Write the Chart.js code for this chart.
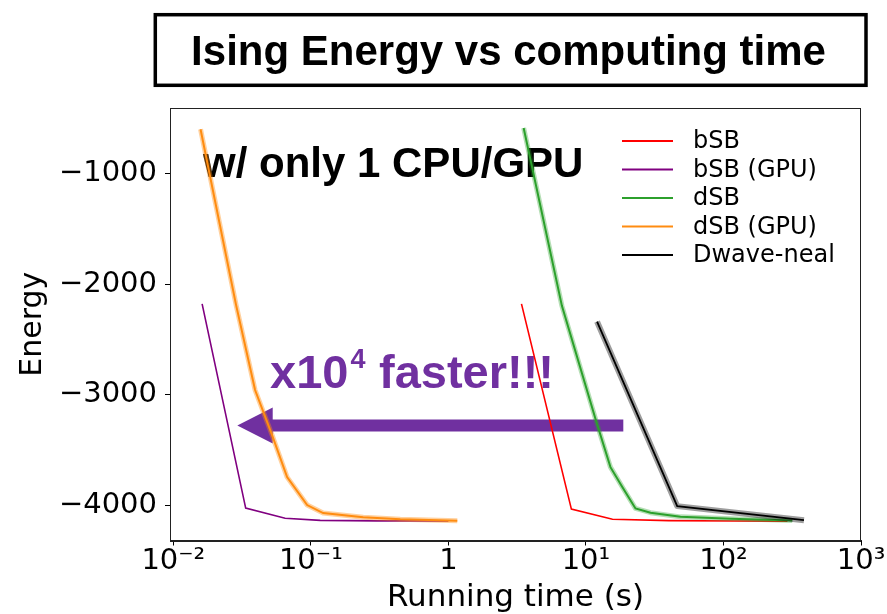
<!DOCTYPE html>
<html><head><meta charset="utf-8">
<script src="https://cdn.jsdelivr.net/npm/chart.js@4"></script>
<style>html,body{margin:0;padding:0;background:#fff;} canvas{display:block;}</style>
</head><body>
<canvas id="c" width="887" height="614"></canvas>
<script>
// ---------- data ----------
const chartTitle = 'Ising Energy vs computing time';
const noteText = 'w/ only 1 CPU/GPU';
const speedupBase = 'x10';
const speedupExp = '4';
const speedupTail = 'faster!!!';
const seriesNames = ['bSB', 'bSB (GPU)', 'dSB', 'dSB (GPU)', 'Dwave-neal'];

const bsbTime      = [3.40, 7.84, 15.6, 40, 120, 292];
const bsbEnergy    = [-2178, -4036, -4127, -4140, -4143, -4145];
const bsbGpuTime   = [0.0162, 0.0336, 0.065, 0.117, 0.3, 1.0];
const bsbGpuEnergy = [-2178, -4027, -4118, -4138, -4142, -4143];
const dsbTime      = [3.526, 6.69, 11.92, 15.08, 18.34, 22.93, 29.5, 48.7, 112.7, 316.7];
const dsbEnergy    = [-586, -2196, -3248, -3656, -3834, -4030, -4068, -4106, -4122, -4139];
const dsbGpuTime   = [0.01578, 0.02859, 0.03932, 0.05228, 0.0672, 0.0940, 0.1229, 0.2403, 0.447, 1.161];
const dsbGpuEnergy = [-597, -2187, -2958, -3366, -3746, -3999, -4072, -4109, -4127, -4142];
const nealTime     = [12.05, 46.1, 385];
const nealEnergy   = [-2339, -4009, -4136];

const xTickValues = [0.01, 0.1, 1, 10, 100, 1000];
const xTickLabels = ['10\u207B\u00B2', '10\u207B\u00B9', '1', '10\u00B9', '10\u00B2', '10\u00B3'];
const yTickValues = [-4000, -3000, -2000, -1000];
const yTickLabels = ['\u22124000', '\u22123000', '\u22122000', '\u22121000'];

// arrow annotation endpoints in data units (time, energy)
const arrowFrom = [18.7, -3278];
const arrowTo   = [0.0292, -3278];

// ---------- chart ----------
Chart.defaults.font.family = "'DejaVu Sans', sans-serif";
Chart.defaults.color = '#000';

function pts(xs, ys) { return xs.map((x, i) => ({x: x, y: ys[i]})); }

const styles = [
  {color: '#ff0000', width: 1.6, band: null, bandW: 0, order: 10},
  {color: '#800080', width: 1.6, band: null, bandW: 0, order: 9},
  {color: '#2ca02c', width: 2, band: 'rgba(44,160,44,0.35)', bandW: 5, order: 8},
  {color: '#ff8c10', width: 2, band: 'rgba(255,140,16,0.4)', bandW: 5, order: 7},
  {color: '#000000', width: 1.8, band: 'rgba(0,0,0,0.38)', bandW: 6, order: 6}
];
const seriesData = [
  pts(bsbTime, bsbEnergy), pts(bsbGpuTime, bsbGpuEnergy),
  pts(dsbTime, dsbEnergy), pts(dsbGpuTime, dsbGpuEnergy),
  pts(nealTime, nealEnergy)
];

const datasets = [];
seriesNames.forEach((name, i) => {
  const s = styles[i];
  if (s.band) {
    datasets.push({label: name + ' band', data: seriesData[i], borderColor: s.band,
      borderWidth: s.bandW, pointRadius: 0, tension: 0, fill: false, order: s.order + 0.5,
      legendEntry: false, borderCapStyle: 'butt', borderJoinStyle: 'round'});
  }
  datasets.push({label: name, data: seriesData[i], borderColor: s.color, backgroundColor: s.color,
    borderWidth: s.width, pointRadius: 0, tension: 0, fill: false, order: s.order, legendEntry: true});
});

const decor = {
  id: 'decor',
  beforeDraw(chart) {
    const ctx = chart.ctx;
    ctx.save();
    ctx.fillStyle = '#fff';
    ctx.fillRect(0, 0, chart.width, chart.height);
    // title box
    ctx.strokeStyle = '#000';
    ctx.lineWidth = 3.5;
    ctx.strokeRect(155.3, 14.7, 710.7, 70.6);
    ctx.fillStyle = '#000';
    ctx.font = "bold 42px 'Liberation Sans', Arial, sans-serif";
    ctx.textAlign = 'center';
    ctx.textBaseline = 'alphabetic';
    ctx.fillText(chartTitle, 508.5, 65);
    ctx.restore();
  },
  beforeDatasetsDraw(chart) {
    const ctx = chart.ctx;
    const xs = chart.scales.x, ys = chart.scales.y;
    ctx.save();
    // note text
    ctx.fillStyle = '#000';
    ctx.font = "bold 42px 'Liberation Sans', Arial, sans-serif";
    ctx.textAlign = 'left';
    ctx.textBaseline = 'alphabetic';
    ctx.fillText(noteText, 203, 177);
    // speed-up text
    const purple = '#7030a0';
    ctx.fillStyle = purple;
    ctx.font = "bold 47px 'Liberation Sans', Arial, sans-serif";
    ctx.fillText(speedupBase, 270, 388);
    const w = ctx.measureText(speedupBase).width;
    ctx.font = "bold 27px 'Liberation Sans', Arial, sans-serif";
    ctx.fillText(speedupExp, 270 + w + 2, 368);
    ctx.font = "bold 47px 'Liberation Sans', Arial, sans-serif";
    ctx.fillText(speedupTail, 379, 388);
    // arrow
    const x0 = xs.getPixelForValue(arrowFrom[0]);
    const x1 = xs.getPixelForValue(arrowTo[0]);
    const yA = ys.getPixelForValue(arrowFrom[1]);
    const headLen = 35.4, headHalf = 18, shaftHalf = 6;
    ctx.beginPath();
    ctx.moveTo(x0, yA - shaftHalf);
    ctx.lineTo(x1 + headLen, yA - shaftHalf);
    ctx.lineTo(x1 + headLen, yA - headHalf);
    ctx.lineTo(x1, yA);
    ctx.lineTo(x1 + headLen, yA + headHalf);
    ctx.lineTo(x1 + headLen, yA + shaftHalf);
    ctx.lineTo(x0, yA + shaftHalf);
    ctx.closePath();
    ctx.fill();
    ctx.restore();
  },
  afterDraw(chart) {
    const ctx = chart.ctx;
    const a = chart.chartArea;
    ctx.save();
    // frame
    ctx.strokeStyle = '#222';
    ctx.lineWidth = 1;
    ctx.strokeRect(Math.round(a.left) + 0.5, Math.round(a.top) + 0.5,
                   Math.round(a.right - a.left) - 1, Math.round(a.bottom - a.top));
    // legend
    const entries = chart.data.datasets.filter(d => d.legendEntry);
    ctx.font = "24px 'DejaVu Sans', sans-serif";
    ctx.textAlign = 'left';
    ctx.textBaseline = 'middle';
    entries.forEach((d, i) => {
      const y = 141 + i * 28.5;
      ctx.strokeStyle = d.borderColor;
      ctx.lineWidth = 2;
      ctx.beginPath();
      ctx.moveTo(622, y);
      ctx.lineTo(673, y);
      ctx.stroke();
      ctx.fillStyle = '#000';
      ctx.fillText(d.label, 693, y + 1);
    });
    ctx.restore();
  }
};

new Chart(document.getElementById('c'), {
  type: 'line',
  data: {datasets: datasets},
  options: {
    responsive: false,
    devicePixelRatio: 1,
    animation: false,
    layout: {padding: {top: 108, right: 26, bottom: 0, left: 0}},
    plugins: {legend: {display: false}, tooltip: {enabled: false}, title: {display: false}},
    scales: {
      x: {
        type: 'logarithmic',
        min: Math.pow(10, -2.024),
        max: 1000,
        afterBuildTicks(scale) { scale.ticks = xTickValues.map(v => ({value: v, major: true})); },
        afterFit(scale) { scale.height = 73.5; },
        ticks: {
          autoSkip: false, maxRotation: 0, padding: 1.5,
          font: {size: 29, lineHeight: 1},
          color: '#000',
          callback: (v) => { const i = xTickValues.indexOf(v); return i >= 0 ? xTickLabels[i] : ''; }
        },
        grid: {display: true, drawOnChartArea: false, drawTicks: true, tickLength: 5, color: '#000', tickWidth: 1},
        border: {display: true, color: '#222', width: 1},
        title: {display: true, text: 'Running time (s)', font: {size: 31, lineHeight: 1}, padding: {top: 0, bottom: 1}, color: '#000'}
      },
      y: {
        type: 'linear',
        min: -4320,
        max: -405,
        afterBuildTicks(scale) { scale.ticks = yTickValues.map(v => ({value: v})); },
        afterFit(scale) { scale.width = 170; },
        ticks: {
          autoSkip: false, padding: 8,
          font: {size: 29},
          color: '#000',
          callback: (v) => { const i = yTickValues.indexOf(v); return i >= 0 ? yTickLabels[i] : ''; }
        },
        grid: {display: true, drawOnChartArea: false, drawTicks: true, tickLength: 5, color: '#000', tickWidth: 1},
        border: {display: true, color: '#222', width: 1},
        title: {display: true, text: 'Energy', font: {size: 30, lineHeight: 1}, padding: {top: 18, bottom: 0}, color: '#000'}
      }
    }
  },
  plugins: [decor]
});
</script>
</body></html>
